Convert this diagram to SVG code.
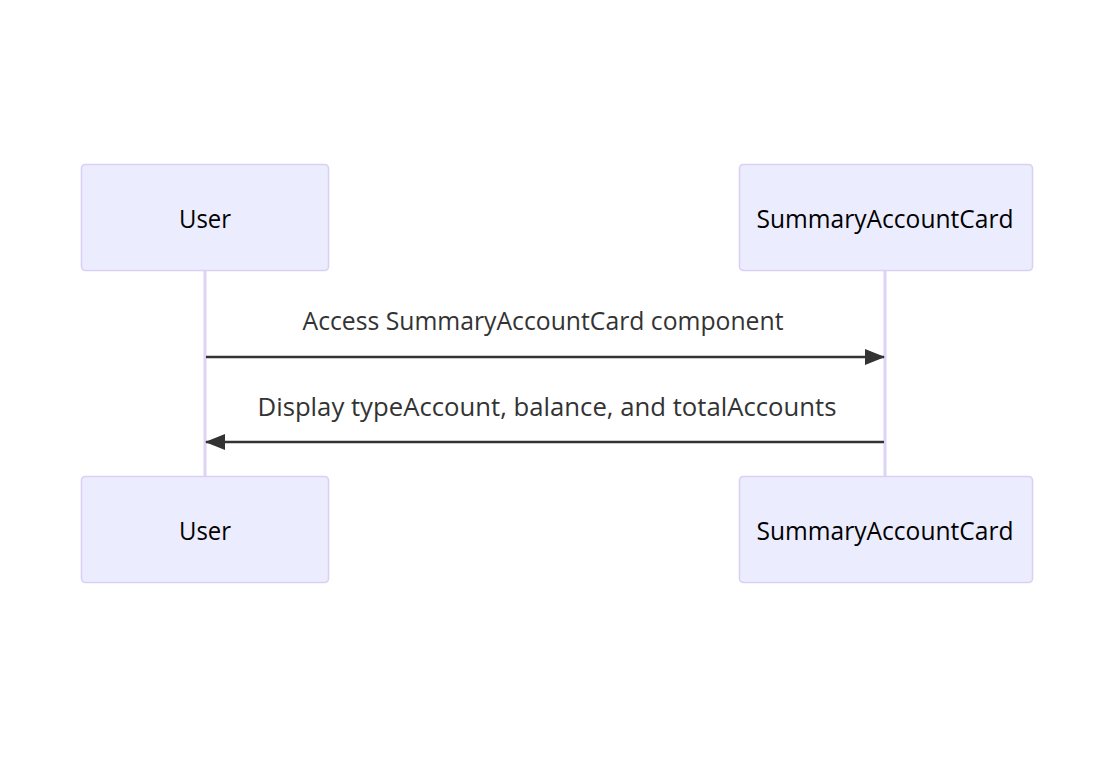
<svg xmlns="http://www.w3.org/2000/svg" width="1114" height="757" viewBox="0 0 1114 757">
<style>
.actor{fill:#ECECFF;stroke:#D9D0F3;stroke-width:1.6}
.atext{font-family:"Open Sans","DejaVu Sans",sans-serif;font-size:25px;fill:#000;text-anchor:middle;dominant-baseline:central}
.life{stroke:#DDD3F5;stroke-width:3}
.msg{stroke:#333;stroke-width:2.5;fill:none}
.mtext{font-family:"Open Sans","DejaVu Sans",sans-serif;font-size:25px;fill:#333;text-anchor:middle;dominant-baseline:central}
</style>
<defs>
<marker id="arrow" markerWidth="20" markerHeight="16" refX="19" refY="8" orient="auto" markerUnits="userSpaceOnUse">
<path d="M0,0 L20,8 L0,16 z" fill="#333"/>
</marker>
</defs>
<rect width="1114" height="757" fill="#fff"/>
<g id="lifelines">
<line class="life" x1="205" y1="271" x2="205" y2="476"/>
<line class="life" x1="885" y1="271" x2="885" y2="476"/>
</g>
<g id="user-top"><rect class="actor" x="81.5" y="164.5" width="247" height="106" rx="4"/><text class="atext" x="205" y="218" textLength="52" lengthAdjust="spacingAndGlyphs">User</text></g>
<g id="card-top"><rect class="actor" x="739.5" y="164.5" width="293" height="106" rx="4"/><text class="atext" x="885" y="218" textLength="257" lengthAdjust="spacingAndGlyphs">SummaryAccountCard</text></g>
<g id="user-bottom"><rect class="actor" x="81.5" y="476.5" width="247" height="106" rx="4"/><text class="atext" x="205" y="530" textLength="52" lengthAdjust="spacingAndGlyphs">User</text></g>
<g id="card-bottom"><rect class="actor" x="739.5" y="476.5" width="293" height="106" rx="4"/><text class="atext" x="885" y="530" textLength="257" lengthAdjust="spacingAndGlyphs">SummaryAccountCard</text></g>
<g id="connectors">
<line class="msg" x1="206" y1="357" x2="884" y2="357" marker-end="url(#arrow)"/>
<text class="mtext" x="543" y="320" textLength="481" lengthAdjust="spacingAndGlyphs">Access SummaryAccountCard component</text>
<line class="msg" x1="884" y1="442" x2="206" y2="442" marker-end="url(#arrow)"/>
<text class="mtext" x="547" y="406" textLength="579" lengthAdjust="spacingAndGlyphs">Display typeAccount, balance, and totalAccounts</text>
</g>
</svg>
